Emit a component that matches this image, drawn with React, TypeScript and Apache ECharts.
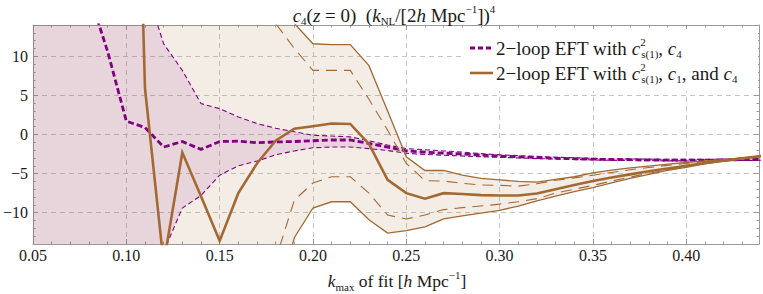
import { useEffect, useRef } from 'react';
import * as echarts from 'echarts';

const kmax = [0.05, 0.06, 0.07, 0.08, 0.09, 0.10, 0.11, 0.12, 0.13, 0.14,
  0.15, 0.16, 0.17, 0.18, 0.19, 0.20, 0.21, 0.22, 0.23, 0.24,
  0.25, 0.26, 0.27, 0.28, 0.29, 0.30, 0.31, 0.32, 0.33, 0.34,
  0.35, 0.36, 0.37, 0.38, 0.39, 0.40, 0.41, 0.42, 0.43, 0.44];

// 2-loop EFT with c_s(1)^2, c4  (purple)
const purpleMid = [60, 45, 32, 18, 10.6, 1.7, 0.9, -1.6, -0.9, -1.9,
  -0.9, -0.85, -1.05, -0.95, -0.9, -0.8, -0.7, -0.7, -1.15, -1.6,
  -2.1, -2.25, -2.38, -2.5, -2.62, -2.75, -2.85, -2.95, -3.03, -3.1,
  -3.15, -3.2, -3.22, -3.25, -3.27, -3.28, -3.28, -3.25, -3.22, -3.2];
const purpleUpper = [120, 100, 80, 60, 42, 28, 19, 11.6, 8.2, 3.95,
  3.3, 2.25, 1.4, 0.8, 0.35, -0.1, -0.2, -0.3, -0.8, -1.35,
  -1.8, -1.95, -2.1, -2.25, -2.45, -2.6, -2.7, -2.8, -2.9, -2.98,
  -3.05, -3.1, -3.12, -3.15, -3.17, -3.18, -3.18, -3.15, -3.12, -3.1];
const purpleLower = [-120, -100, -80, -60, -45, -32, -22, -15, -9.4, -7.8,
  -5.2, -4.0, -3.4, -2.6, -2.1, -1.7, -1.6, -1.6, -1.8, -2.05,
  -2.4, -2.55, -2.65, -2.75, -2.85, -2.92, -3.0, -3.08, -3.15, -3.2,
  -3.25, -3.3, -3.32, -3.35, -3.37, -3.38, -3.38, -3.35, -3.32, -3.3];

// 2-loop EFT with c_s(1)^2, c1, and c4  (brown)
const brownMid = [40, 55, 70, 85, 100, 90, 5.9, -16.5, -2.3, -7.9,
  -13.6, -7.5, -3.7, -0.8, 0.75, 1.05, 1.4, 1.35, -1.2, -5.8,
  -7.5, -8.2, -7.5, -7.6, -7.75, -7.8, -7.8, -7.55, -7.0, -6.45,
  -5.95, -5.5, -5.1, -4.7, -4.35, -4.0, -3.65, -3.35, -3.05, -2.77];
const brownUpperOuter = [300, 280, 260, 240, 220, 200, 150, 100, 70, 50,
  38, 28, 22, 20, 14.2, 11.6, 11.5, 11.5, 8.8, 3.0,
  -2.85, -4.6, -4.6, -5.2, -5.6, -5.8, -6.0, -6.1, -5.75, -5.4,
  -4.9, -4.55, -4.26, -4.04, -3.79, -3.58, -3.37, -3.2, -2.98, -2.77];
const brownUpperInner = [250, 230, 210, 190, 170, 150, 110, 75, 50, 35,
  28, 22, 19, 14.2, 11.0, 8.2, 8.2, 8.2, 4.5, 0.55,
  -3.7, -5.9, -5.95, -6.25, -6.45, -6.5, -6.6, -6.3, -5.85, -5.55,
  -5.2, -4.85, -4.5, -4.22, -3.95, -3.7, -3.45, -3.22, -3.0, -2.77];
const brownLowerInner = [-250, -230, -210, -190, -170, -150, -110, -75, -50, -35,
  -28, -24, -20, -16, -8.4, -6.2, -5.4, -5.4, -7.5, -10.3,
  -10.8, -10.3, -9.6, -9.35, -9.15, -8.9, -8.6, -8.2, -7.5, -7.0,
  -6.5, -5.95, -5.45, -4.95, -4.5, -4.1, -3.7, -3.38, -3.06, -2.77];
const brownLowerOuter = [-300, -280, -260, -240, -220, -200, -150, -100, -70, -50,
  -38, -30, -26, -22, -13.2, -9.4, -8.6, -8.6, -10.9, -12.6,
  -12.3, -11.8, -10.8, -10.4, -10.05, -9.7, -9.15, -8.5, -7.87, -7.3,
  -6.8, -6.2, -5.6, -5.1, -4.6, -4.2, -3.75, -3.4, -3.08, -2.77];

const xTicks = [0.05, 0.10, 0.15, 0.20, 0.25, 0.30, 0.35, 0.40];
const yTicks = [-10, -5, 0, 5, 10];
const X_MIN = 0.05;
const X_MAX = 0.439;
const Y_MIN = -14;
const Y_MAX = 14;

const titleText = '{i|c}{sub|4}{n|(}{i|z}{n| = 0)  (}{i|k}{sub|NL}{n|/[2}{i|h}{n| Mpc}{sup|−1}{n|])}{sup|4}';
const legendTexts = [
  '{n|2−loop EFT with }{i|c}{supw|2}{sub|s(1)}{n|, }{i|c}{sub|4}',
  '{n|2−loop EFT with }{i|c}{supw|2}{sub|s(1)}{n|, }{i|c}{sub|1}{n|, and }{i|c}{sub|4}',
];
const xLabelText = '{i|k}{sub|max}{n| of fit [}{i|h}{n| Mpc}{sup|−1}{n|]}';

const PURPLE = '#800080';
const BROWN = '#a36933';
const GRAY = '#9a9a9a';
const FONT = 'Liberation Serif, serif';
const INK = '#1a1a1a';

function rich(size: number) {
  const s = Math.round(size * 0.6);
  const up = Math.round(size * 0.68);
  const down = Math.round(size * 0.63);
  return {
    n: { fontSize: size, fontFamily: FONT, fill: INK },
    i: { fontSize: size, fontFamily: FONT, fontStyle: 'italic', fill: INK },
    sub: { fontSize: s, fontFamily: FONT, fill: INK, padding: [down, 0, 0, 0] },
    sup: { fontSize: s, fontFamily: FONT, fill: INK, padding: [0, 0, up, 0] },
    supw: { fontSize: s, fontFamily: FONT, fill: INK, padding: [0, 0, up, 0], width: 1 },
  };
}

function band(lo: number[], hi: number[], fill: string) {
  return {
    type: 'custom',
    clip: true,
    silent: true,
    data: kmax.map((k, i) => [k, lo[i], hi[i]]),
    renderItem: (params: any, api: any) => {
      if (params.dataIndex !== 0) return null;
      const pts: number[][] = [];
      for (let i = 0; i < kmax.length; i++) pts.push(api.coord([kmax[i], hi[i]]));
      for (let i = kmax.length - 1; i >= 0; i--) pts.push(api.coord([kmax[i], lo[i]]));
      return { type: 'polygon', shape: { points: pts }, style: { fill } };
    },
  };
}

function line(vals: number[], color: string, width: number, type: any) {
  return {
    type: 'line',
    data: kmax.map((k, i) => [k, vals[i]]),
    symbol: 'none',
    showSymbol: false,
    clip: true,
    silent: true,
    lineStyle: { color, width, type, cap: 'butt', join: 'miter' },
  };
}

const baseX = { type: 'value', min: X_MIN, max: X_MAX };
const baseY = { type: 'value', min: Y_MIN, max: Y_MAX };

const option: any = {
  animation: false,
  textStyle: { fontFamily: FONT },
  grid: { left: 32, top: 25, width: 727, height: 219, containLabel: false },
  xAxis: [
    {
      ...baseX, position: 'bottom', interval: 0.05,
      axisLine: { show: true, onZero: false, lineStyle: { color: GRAY } },
      axisTick: { show: true, inside: true, length: 5, lineStyle: { color: GRAY } },
      axisLabel: {
        show: true, margin: 3, fontFamily: FONT, fontSize: 16, color: INK,
        formatter: (v: number) => (xTicks.some((t) => Math.abs(t - v) < 1e-6) ? v.toFixed(2) : ''),
      },
      splitLine: { show: true, lineStyle: { color: '#c6c6c6', type: [5, 4], width: 1 } },
    },
    {
      ...baseX, position: 'top', interval: 0.05,
      axisLine: { show: true, onZero: false, lineStyle: { color: GRAY } },
      axisTick: { show: true, inside: true, length: 5, lineStyle: { color: GRAY } },
      axisLabel: { show: false }, splitLine: { show: false },
    },
    {
      ...baseX, position: 'bottom', interval: 0.01,
      axisLine: { show: false, onZero: false },
      axisTick: { show: true, inside: true, length: 2.5, lineStyle: { color: GRAY } },
      axisLabel: { show: false }, splitLine: { show: false },
    },
    {
      ...baseX, position: 'top', interval: 0.01,
      axisLine: { show: false, onZero: false },
      axisTick: { show: true, inside: true, length: 2.5, lineStyle: { color: GRAY } },
      axisLabel: { show: false }, splitLine: { show: false },
    },
  ],
  yAxis: [
    {
      ...baseY, position: 'left',
      axisLine: { show: true, onZero: false, lineStyle: { color: GRAY } },
      axisTick: { show: true, inside: true, length: 5, customValues: yTicks, lineStyle: { color: GRAY } },
      axisLabel: {
        show: true, margin: 5, fontFamily: FONT, fontSize: 16, color: INK, customValues: yTicks,
        formatter: (v: number) => String(v).replace('-', '−'),
      },
      splitLine: { show: true, lineStyle: { color: '#c6c6c6', type: [5, 4], width: 1 } },
    },
    {
      ...baseY, position: 'right',
      axisLine: { show: true, onZero: false, lineStyle: { color: GRAY } },
      axisTick: { show: true, inside: true, length: 5, customValues: yTicks, lineStyle: { color: GRAY } },
      axisLabel: { show: false }, splitLine: { show: false },
    },
    {
      ...baseY, position: 'left', interval: 1,
      axisLine: { show: false, onZero: false },
      axisTick: { show: true, inside: true, length: 2.5, lineStyle: { color: GRAY } },
      axisLabel: { show: false }, splitLine: { show: false },
    },
    {
      ...baseY, position: 'right', interval: 1,
      axisLine: { show: false, onZero: false },
      axisTick: { show: true, inside: true, length: 2.5, lineStyle: { color: GRAY } },
      axisLabel: { show: false }, splitLine: { show: false },
    },
  ],
  series: [
    band(brownLowerOuter, brownUpperOuter, 'rgba(165,106,53,0.12)'),
    band(purpleLower, purpleUpper, 'rgba(128,0,128,0.10)'),
    line(purpleUpper, PURPLE, 1.1, [5, 3]),
    line(purpleLower, PURPLE, 1.1, [5, 3]),
    line(purpleMid, PURPLE, 2.8, [6, 3]),
    line(brownUpperOuter, BROWN, 1.3, 'solid'),
    line(brownLowerOuter, BROWN, 1.3, 'solid'),
    line(brownUpperInner, BROWN, 1.1, [11, 7]),
    line(brownLowerInner, BROWN, 1.1, [11, 7]),
    line(brownMid, BROWN, 2.6, 'solid'),
  ],
  graphic: [
    {
      type: 'text', x: 394, y: 15, z: 100,
      style: { text: titleText, rich: rich(19), align: 'center', verticalAlign: 'middle', fontFamily: FONT, fontSize: 19 },
    },
    {
      type: 'text', x: 397, y: 281, z: 100,
      style: { text: xLabelText, rich: rich(17.5), align: 'center', verticalAlign: 'middle', fontFamily: FONT, fontSize: 17.5 },
    },
    { type: 'rect', z: 100, shape: { x: 463, y: 29, width: 295, height: 62 }, style: { fill: '#ffffff' } },
    {
      type: 'line', z: 101, shape: { x1: 470, y1: 48, x2: 493, y2: 48 },
      style: { stroke: PURPLE, lineWidth: 2.8, lineDash: [5, 3] },
    },
    {
      type: 'text', x: 496, y: 48, z: 101,
      style: { text: legendTexts[0], rich: rich(19), align: 'left', verticalAlign: 'middle', fontFamily: FONT, fontSize: 19 },
    },
    {
      type: 'line', z: 101, shape: { x1: 470, y1: 73, x2: 493, y2: 73 },
      style: { stroke: BROWN, lineWidth: 2.6 },
    },
    {
      type: 'text', x: 496, y: 73, z: 101,
      style: { text: legendTexts[1], rich: rich(19), align: 'left', verticalAlign: 'middle', fontFamily: FONT, fontSize: 19 },
    },
  ],
};

export default function App() {
  const ref = useRef<HTMLDivElement>(null);
  useEffect(() => {
    document.body.style.margin = '0';
    const chart = echarts.init(ref.current!, null, { renderer: 'svg' });
    chart.setOption(option);
    return () => chart.dispose();
  }, []);
  return (
    <div
      ref={ref}
      style={{ position: 'fixed', left: 0, top: 0, width: 763, height: 294, background: '#fff' }}
    />
  );
}
